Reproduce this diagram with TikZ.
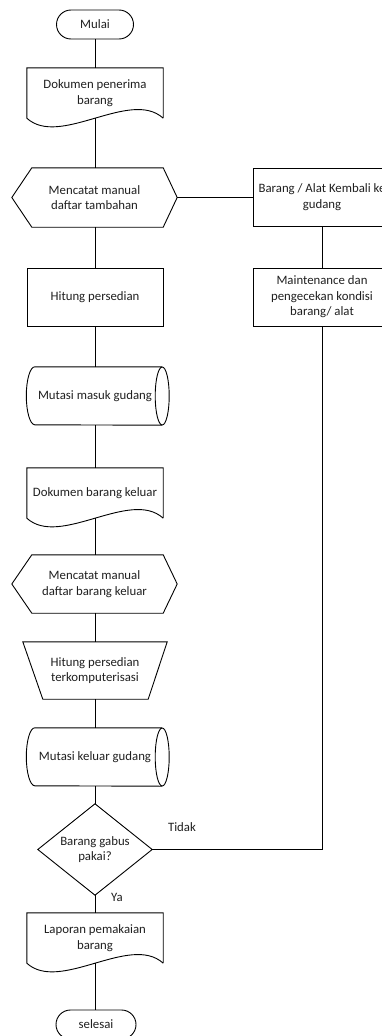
\documentclass[tikz,border=0pt]{standalone}
\usepackage{fontspec}
\setmainfont{Carlito}
\usetikzlibrary{shapes.misc,calc}

% outline helpers: each draws a symbol around an (invisible) named node
\newcommand\docoutline[1]{%
  \draw[outline] (#1.south east) -- (#1.north east) -- (#1.north west) -- (#1.south west)
    .. controls ($(#1.south west)+(33,-30)$) and ($(#1.south east)+(-33,30)$) .. (#1.south east);}
\newcommand\hexoutline[1]{%
  \draw[outline] (#1.west) -- ($(#1.north west)+(20,0)$) -- ($(#1.north east)+(-14,0)$) -- (#1.east)
    -- ($(#1.south east)+(-14,0)$) -- ($(#1.south west)+(20,0)$) -- cycle;}
\newcommand\cyloutline[1]{%
  \draw[outline] (#1.north east) -- ($(#1.north west)+(7,0)$)
    arc[start angle=90, end angle=270, x radius=8.5, y radius=29] -- (#1.south east);
  \draw[outline] (#1.east) ellipse[x radius=7, y radius=29];}
\newcommand\trapoutline[1]{%
  \draw[outline] (#1.north west) -- (#1.north east) -- ($(#1.south east)+(-19,0)$)
    -- ($(#1.south west)+(20,0)$) -- cycle;}
\newcommand\diaoutline[1]{%
  \draw[outline] (#1.north) -- (#1.east) -- (#1.south) -- (#1.west) -- cycle;}

\begin{document}
\begin{tikzpicture}[x=1pt,y=1pt,
  txt/.style={font=\fontsize{12.8}{15.5}\selectfont, text=black!88},
  shapebox/.style={txt, draw=none, inner sep=0pt, align=center},
  outline/.style={draw=black, line width=0.9pt},
  conn/.style={draw=black, line width=0.9pt},
  terminal/.style={txt, rounded rectangle, draw=black, line width=0.9pt,
    minimum height=29pt, inner sep=0pt},
  procbox/.style={shapebox, draw=black, line width=0.9pt, minimum width=138pt},
]
\useasboundingbox (0,0) rectangle (381,-1036);

% main column
\node[terminal, minimum width=77pt] (mulai) at (95,-24.5) {Mulai};
\node[shapebox, minimum width=136pt, minimum height=50pt] (d1) at (95,-93) {Dokumen penerima\\barang};
\docoutline{d1}
\node[shapebox, minimum width=165pt, minimum height=59pt] (h1) at (94.5,-197.5) {Mencatat manual\\daftar tambahan};
\hexoutline{h1}
\node[procbox, minimum width=136pt, minimum height=58pt] (p1) at (95,-297) {Hitung persedian};
\node[shapebox, minimum width=134pt, minimum height=58pt] (c1) at (95,-396) {Mutasi masuk gudang};
\cyloutline{c1}
\node[shapebox, minimum width=136pt, minimum height=50pt] (d2) at (95,-493) {Dokumen barang keluar};
\docoutline{d2}
\node[shapebox, minimum width=165pt, minimum height=58pt] (h2) at (94.5,-584) {Mencatat manual\\daftar barang keluar};
\hexoutline{h2}
\node[shapebox, minimum width=144pt, minimum height=57pt] (t1) at (95,-670.5) {Hitung persedian\\terkomputerisasi};
\trapoutline{t1}
\node[shapebox, minimum width=134pt, minimum height=58pt] (c2) at (95,-757) {Mutasi keluar gudang};
\cyloutline{c2}
\node[shapebox, minimum width=114pt, minimum height=91pt] (dia) at (95,-849.5) {Barang gabus\\pakai?};
\diaoutline{dia}
\node[shapebox, minimum width=136pt, minimum height=50pt] (d3) at (95,-938) {Laporan pemakaian\\barang};
\docoutline{d3}
\node[terminal, minimum width=80pt] (selesai) at (96,-1024.5) {selesai};

% side column
\node[procbox, minimum height=58pt] (r1) at (322,-197) {Barang / Alat Kembali ke\\gudang};
\node[procbox, minimum height=58pt] (r2) at (322,-297) {Maintenance dan\\pengecekan kondisi\\barang/ alat};

% connectors
\draw[conn] (mulai.south) -- (mulai.south |- d1.north);
\draw[conn] (d1.south) -- (h1.north -| d1.south);
\draw[conn] (h1.east) -- (r1.west |- h1.east);
\draw[conn] (h1.south -| p1.north) -- (p1.north);
\draw[conn] (r1.south) -- (r2.north);
\draw[conn] (p1.south) -- (c1.north);
\draw[conn] (c1.south) -- (d2.north);
\draw[conn] (d2.south) -- (h2.north -| d2.south);
\draw[conn] (t1.north) -- (t1.north |- h2.south);
\draw[conn] (t1.south) -- (c2.north);
\draw[conn] (c2.south) -- (dia.north);
\draw[conn] (dia.south) -- (d3.north);
\draw[conn] (d3.south) -- (d3.south |- selesai.north);
\draw[conn] (r2.south) |- (dia.east);

% branch labels
\node[txt] (tidak) at (182,-827) {Tidak};
\node[txt] (ya) at (117,-897) {Ya};
\end{tikzpicture}
\end{document}
